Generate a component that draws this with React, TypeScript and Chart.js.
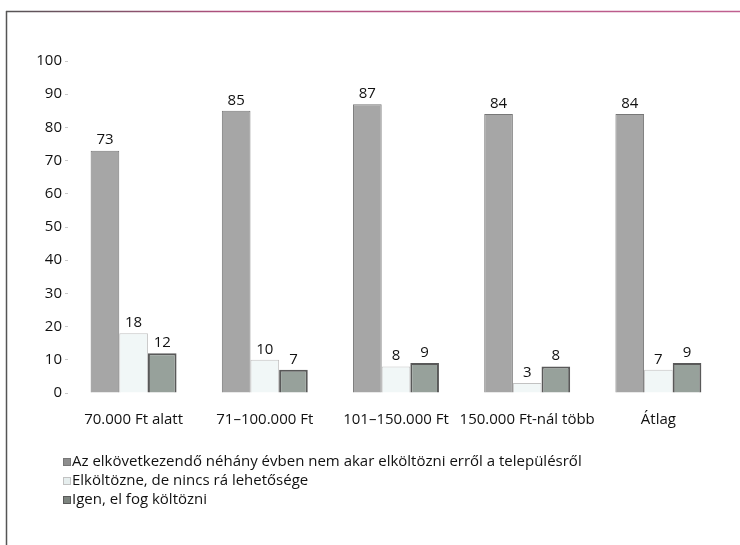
import React, { useEffect, useRef } from "react";
import { Chart, registerables } from "chart.js";

Chart.register(...registerables);

const categories = ["70.000 Ft alatt", "71–100.000 Ft", "101–150.000 Ft", "150.000 Ft-nál több", "Átlag"];
const seriesNames = [
  "Az elkövetkezendő néhány évben nem akar elköltözni erről a településről",
  "Elköltözne, de nincs rá lehetősége",
  "Igen, el fog költözni",
];
const stayValues = [73, 85, 87, 84, 84];
const wouldMoveValues = [18, 10, 8, 3, 7];
const willMoveValues = [12, 7, 9, 8, 9];
const yTicks = [0, 10, 20, 30, 40, 50, 60, 70, 80, 90, 100];

const FONT = "'Open Sans', Lato, sans-serif";
const SIZE = 15;

const framePlugin = {
  id: "frame",
  beforeDraw(chart: any) {
    const ctx = chart.ctx;
    ctx.save();
    ctx.fillStyle = "#ffffff";
    ctx.fillRect(0, 0, chart.width, chart.height);
    ctx.strokeStyle = "#555555";
    ctx.lineWidth = 1.5;
    ctx.beginPath();
    ctx.moveTo(6.5, 11);
    ctx.lineTo(6.5, chart.height);
    ctx.stroke();
    const grad = ctx.createLinearGradient(6, 0, chart.width, 0);
    grad.addColorStop(0, "#555555");
    grad.addColorStop(0.3, "#b0507e");
    grad.addColorStop(1, "#c06090");
    ctx.strokeStyle = grad;
    ctx.beginPath();
    ctx.moveTo(6, 11.5);
    ctx.lineTo(chart.width, 11.5);
    ctx.stroke();
    ctx.restore();
  },
};

const valueLabelPlugin = {
  id: "valueLabels",
  afterDatasetsDraw(chart: any) {
    const ctx = chart.ctx;
    ctx.save();
    ctx.font = `${SIZE}px ${FONT}`;
    ctx.fillStyle = "#111111";
    ctx.textAlign = "center";
    ctx.textBaseline = "bottom";
    chart.data.datasets.forEach((ds: any, di: number) => {
      const meta = chart.getDatasetMeta(di);
      meta.data.forEach((el: any, i: number) => {
        ctx.fillText(String(ds.data[i]), el.x, el.y - 3);
      });
    });
    ctx.restore();
  },
};

const legendPlugin = {
  id: "customLegend",
  afterDraw(chart: any) {
    const ctx = chart.ctx;
    ctx.save();
    ctx.font = `${SIZE}px ${FONT}`;
    ctx.textBaseline = "middle";
    ctx.textAlign = "left";
    chart.data.datasets.forEach((ds: any, i: number) => {
      const y = 462 + i * 19;
      ctx.fillStyle = ds.legendColor;
      ctx.fillRect(63, y - 4, 8, 8);
      ctx.strokeStyle = ds.borderColor;
      ctx.lineWidth = 1;
      ctx.strokeRect(63.5, y - 3.5, 7, 7);
      ctx.fillStyle = "#111111";
      ctx.fillText(ds.label, 72, y);
    });
    ctx.restore();
  },
};

export default function App() {
  const ref = useRef<HTMLCanvasElement | null>(null);

  useEffect(() => {
    if (!ref.current) return;
    const chart = new Chart(ref.current, {
      type: "bar",
      data: {
        labels: categories,
        datasets: [
          {
            label: seriesNames[0],
            data: stayValues,
            backgroundColor: "#a6a6a6",
            borderColor: "#777777",
            borderWidth: 1,
            legendColor: "#8e8e8e",
          } as any,
          {
            label: seriesNames[1],
            data: wouldMoveValues,
            backgroundColor: "#f1f7f7",
            borderColor: "#c2c2c2",
            borderWidth: 1,
            legendColor: "#e6eeee",
          } as any,
          {
            label: seriesNames[2],
            data: willMoveValues,
            backgroundColor: "#97a19b",
            borderColor: "#595959",
            borderWidth: 2,
            legendColor: "#7d847f",
          } as any,
        ],
      },
      options: {
        responsive: false,
        animation: false,
        devicePixelRatio: 1,
        layout: { padding: { left: 20, right: 16, top: 61, bottom: 117 } },
        plugins: {
          legend: { display: false },
          tooltip: { enabled: false },
          title: { display: false },
        },
        datasets: {
          bar: { categoryPercentage: 0.655, barPercentage: 1 },
        },
        scales: {
          x: {
            grid: { display: false },
            border: { display: false },
            ticks: {
              padding: 10,
              color: "#111111",
              font: { family: FONT, size: SIZE },
              maxRotation: 0,
              autoSkip: false,
            },
            afterFit(scale: any) {
              scale.height = 35;
            },
          },
          y: {
            min: 0,
            max: 100,
            afterBuildTicks(scale: any) {
              scale.ticks = yTicks.map((v) => ({ value: v }));
            },
            grid: {
              drawOnChartArea: false,
              drawTicks: true,
              tickLength: 3,
              color: "#c8c8c8",
            },
            border: { display: false },
            ticks: {
              padding: 3,
              color: "#111111",
              font: { family: FONT, size: SIZE },
            },
            afterFit(scale: any) {
              scale.width = 48;
            },
          },
        },
      } as any,
      plugins: [framePlugin, valueLabelPlugin, legendPlugin],
    });
    return () => chart.destroy();
  }, []);

  return (
    <canvas
      ref={ref}
      width={740}
      height={545}
      style={{ position: "fixed", left: 0, top: 0, width: 740, height: 545 }}
    />
  );
}
